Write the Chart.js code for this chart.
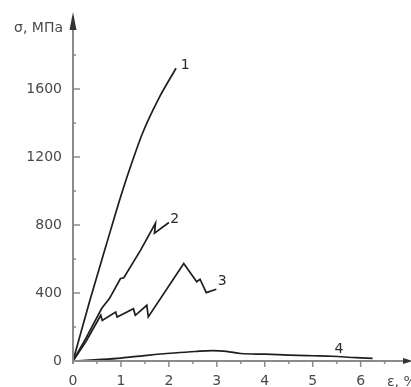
<!DOCTYPE html>
<html>
<head>
<meta charset="utf-8">
<script src="https://cdn.jsdelivr.net/npm/chart.js@4/dist/chart.umd.min.js"></script>
<style>
  body { margin: 0; background: #fff; }
  .chartbox { width: 411px; height: 387px; }
</style>
</head>
<body>
<div class="chartbox"><canvas id="chart" width="411" height="387"></canvas></div>
<script>
// strain (%) / stress (MPa)
const curve1X = [0, 0.35, 0.68, 1.02, 1.22, 1.45, 1.79, 2.15];
const curve1Y = [0, 355, 670, 990, 1160, 1340, 1545, 1722];

const curve2X = [0, 0.27, 0.60, 0.76, 0.99, 1.06, 1.41, 1.72, 1.70, 2.0];
const curve2Y = [0, 135, 310, 367, 485, 490, 652, 810, 752, 815];

const curve3X = [0, 0.27, 0.58, 0.61, 0.89, 0.92, 1.26, 1.30, 1.54, 1.57, 2.31, 2.58, 2.65, 2.78, 2.99];
const curve3Y = [0, 115, 269, 239, 288, 259, 308, 269, 328, 259, 573, 466, 481, 402, 422];

const curve4X = [0, 0.6, 1.0, 1.6, 2.1, 2.55, 2.9, 3.2, 3.5, 4.0, 4.5, 5.0, 5.4, 5.9, 6.25];
const curve4Y = [0, 9, 17, 35, 47, 56, 61, 57, 44, 40, 35, 31, 28, 20, 16];

const curveNames = ["1", "2", "3", "4"];
const nameX = [2.34, 2.12, 3.11, 5.55];
const nameY = [1741, 832, 471, 67];

const xTickLabels = [0, 1, 2, 3, 4, 5, 6];
const yTickLabels = [0, 400, 800, 1200, 1600];

const FONT = "'DejaVu Sans', sans-serif";
const AXIS = "#8a8a8a";

function pts(xs, ys) {
    return xs.map((x, i) => ({ x: x, y: ys[i] }));
}

function makeSet(xs, ys, smooth) {
    return {
        data: pts(xs, ys),
        showLine: true,
        borderColor: "#1e1e1e",
        borderWidth: 1.7,
        pointRadius: 0,
        cubicInterpolationMode: smooth ? "monotone" : "default",
        tension: 0,
        fill: false
    };
}

// axes with arrows, tick marks, titles and curve numbers
const decor = {
    id: "decor",
    afterDraw(chart) {
        const ctx = chart.ctx;
        const xs = chart.scales.x, ys = chart.scales.y;
        const x0 = xs.getPixelForValue(0), y0 = ys.getPixelForValue(0);
        ctx.save();
        ctx.strokeStyle = AXIS;
        ctx.lineWidth = 2;
        ctx.beginPath();
        ctx.moveTo(x0, y0 + 3);
        ctx.lineTo(x0, 22);
        ctx.moveTo(x0 - 1, y0);
        ctx.lineTo(405, y0);
        ctx.stroke();
        // arrow heads
        ctx.fillStyle = "#333";
        ctx.beginPath();
        ctx.moveTo(x0, 12);
        ctx.lineTo(x0 - 3.5, 30);
        ctx.lineTo(x0 + 3.5, 30);
        ctx.closePath();
        ctx.fill();
        ctx.beginPath();
        ctx.moveTo(413, y0);
        ctx.lineTo(403, y0 - 3);
        ctx.lineTo(403, y0 + 3);
        ctx.closePath();
        ctx.fill();

        // tick marks
        ctx.strokeStyle = AXIS;
        ctx.lineWidth = 1.5;
        ctx.beginPath();
        for (let v = 0.5; v <= 6.5; v += 0.5) {
            const px = xs.getPixelForValue(v);
            const len = Number.isInteger(v) ? 6 : 3;
            ctx.moveTo(px, y0);
            ctx.lineTo(px, y0 + len);
        }
        for (let v = 200; v <= 1800; v += 200) {
            const py = ys.getPixelForValue(v);
            const len = v % 400 === 0 ? 7 : 3;
            ctx.moveTo(x0, py);
            ctx.lineTo(x0 + len, py);
        }
        ctx.stroke();

        // titles
        ctx.fillStyle = "#4a4a4a";
        ctx.font = "14px " + FONT;
        ctx.textBaseline = "middle";
        ctx.textAlign = "right";
        ctx.fillText("σ, МПа", 63, 28);
        ctx.textAlign = "left";
        ctx.fillText("ε, %", 387, 382);

        // curve numbers
        ctx.fillStyle = "#2a2a2a";
        ctx.textAlign = "center";
        curveNames.forEach((n, i) => {
            ctx.fillText(n, xs.getPixelForValue(nameX[i]), ys.getPixelForValue(nameY[i]));
        });
        ctx.restore();
    }
};

const canvas = document.getElementById("chart");
new Chart(canvas.getContext("2d"), {
    type: "scatter",
    data: {
        datasets: [
            makeSet(curve1X, curve1Y, true),
            makeSet(curve2X, curve2Y, false),
            makeSet(curve3X, curve3Y, false),
            makeSet(curve4X, curve4Y, true)
        ]
    },
    options: {
        responsive: false,
        animation: false,
        layout: { padding: { top: 21, right: 8, left: 0, bottom: 0 } },
        plugins: { legend: { display: false }, tooltip: { enabled: false } },
        scales: {
            x: {
                type: "linear",
                min: 0,
                max: 6.8,
                afterFit: s => { s.height = 26; },
                grid: { display: false, drawTicks: false },
                border: { display: false },
                ticks: {
                    stepSize: 1,
                    autoSkip: false,
                    maxRotation: 0,
                    padding: 12,
                    color: "#4a4a4a",
                    font: { family: FONT, size: 14 },
                    callback: v => xTickLabels.includes(v) ? String(v) : ""
                }
            },
            y: {
                type: "linear",
                min: 0,
                max: 2000,
                afterFit: s => { s.width = 73; },
                grid: { display: false, drawTicks: false },
                border: { display: false },
                ticks: {
                    stepSize: 400,
                    autoSkip: false,
                    padding: 11,
                    color: "#4a4a4a",
                    font: { family: FONT, size: 14 },
                    callback: v => yTickLabels.includes(v) ? String(v) : ""
                }
            }
        }
    },
    plugins: [decor]
});
</script>
</body>
</html>
